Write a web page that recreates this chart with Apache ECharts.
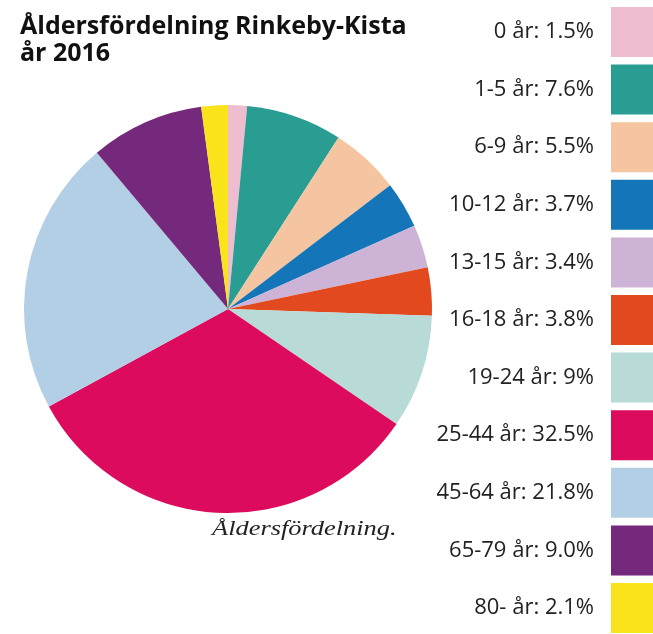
<!DOCTYPE html>
<html>
<head>
<meta charset="utf-8">
<script src="https://cdn.jsdelivr.net/npm/echarts@6/dist/echarts.min.js"></script>
<style>
  html, body { margin: 0; padding: 0; background: #fff; }
  #chart { width: 653px; height: 634px; }
</style>
</head>
<body>
<div id="chart"></div>
<script>
var ages = ['0 år', '1-5 år', '6-9 år', '10-12 år', '13-15 år', '16-18 år', '19-24 år', '25-44 år', '45-64 år', '65-79 år', '80- år'];
var shares = [1.5, 7.6, 5.5, 3.7, 3.4, 3.8, 9, 32.5, 21.8, 9.0, 2.1];
var shareText = ['1.5', '7.6', '5.5', '3.7', '3.4', '3.8', '9', '32.5', '21.8', '9.0', '2.1'];
var colors = ['#eebdd0', '#2a9d93', '#f5c4a1', '#1476b8', '#cdb4d6', '#e2491e', '#b8dbd8', '#dc0b5d', '#b3cfe6', '#74297c', '#f9e31a'];

var pieData = ages.map(function (a, i) {
    return { name: a, value: shares[i], itemStyle: { color: colors[i] } };
});

var option = {
    animation: false,
    title: {
        text: 'Åldersfördelning Rinkeby-Kista\når 2016',
        left: 20,
        top: 13,
        padding: 0,
        textStyle: {
            fontFamily: 'Open Sans',
            fontWeight: 'bold',
            fontSize: 25,
            lineHeight: 27,
            color: '#111'
        }
    },
    legend: {
        orient: 'vertical',
        right: -2,
        top: 7,
        padding: 0,
        align: 'right',
        itemWidth: 44,
        itemHeight: 50,
        itemGap: 7.6,
        icon: 'rect',
        selectedMode: false,
        textStyle: {
            fontFamily: 'Open Sans',
            fontSize: 22,
            color: '#222',
            padding: [0, 12, 0, 0]
        },
        formatter: function (name) {
            var i = ages.indexOf(name);
            return name + ': ' + shareText[i] + '%';
        },
        data: ages
    },
    graphic: [{
        type: 'text',
        x: 212,
        y: 518,
        scaleX: 1.2,
        style: {
            text: 'Åldersfördelning.',
            font: 'italic 22px "Liberation Serif"',
            fill: '#222'
        }
    }],
    series: [{
        type: 'pie',
        center: [228, 309],
        radius: 204,
        startAngle: 90,
        clockwise: true,
        label: { show: false },
        labelLine: { show: false },
        emphasis: { disabled: true },
        data: pieData
    }]
};

var chart = echarts.init(document.getElementById('chart'));
chart.setOption(option);
</script>
</body>
</html>
